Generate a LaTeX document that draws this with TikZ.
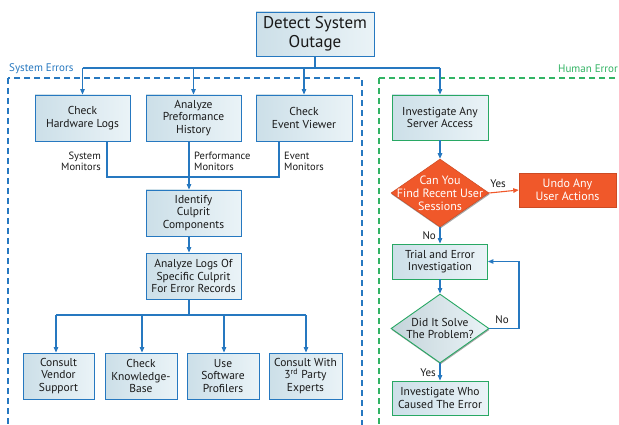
\documentclass[tikz,border=0pt]{standalone}
\usepackage{fontspec}
\setmainfont{PT Sans}
\usetikzlibrary{shapes.geometric,shadows,arrows.meta,calc}
\definecolor{lineblue}{RGB}{38,120,192}
\definecolor{boxgreen}{RGB}{40,168,100}
\definecolor{dashgreen}{RGB}{50,180,100}
\definecolor{actred}{RGB}{240,88,42}
\definecolor{fillL}{RGB}{204,223,232}
\definecolor{fillR}{RGB}{234,243,247}
\definecolor{dfillL}{RGB}{196,212,218}
\definecolor{txt}{RGB}{25,25,25}
\begin{document}
\begin{tikzpicture}[x=1pt,y=-1pt,
 shad/.style={drop shadow={shadow xshift=0.6pt, shadow yshift=-1.4pt, opacity=0.35, fill=black}},
 base/.style={rectangle, align=center, inner sep=1pt, text=txt, font=\fontsize{11.5}{12.5}\selectfont, shad},
 bbox/.style={base, draw=lineblue, line width=0.9pt, left color=fillL, right color=fillR},
 gbox/.style={base, draw=boxgreen, line width=0.9pt, left color=fillL, right color=fillR},
 rbox/.style={base, fill=actred, draw=actred!85!black, line width=0.5pt, text=white, font=\fontsize{12}{13}\selectfont},
 conn/.style={draw=lineblue, line width=1.1pt},
 arr/.style={conn, -{Triangle[width=4.5pt,length=5.5pt]}},
 rarr/.style={draw=actred, line width=1.1pt, -{Triangle[width=4.5pt,length=5.5pt]}},
 lbl/.style={font=\fontsize{10.5}{11.5}\selectfont, text=txt, inner sep=0pt},
 yn/.style={font=\fontsize{11}{12}\selectfont, text=txt, inner sep=0pt},
 dtext/.style={align=center, inner sep=0pt, font=\fontsize{11.5}{12.5}\selectfont},
]
\useasboundingbox (0,0) rectangle (619,425);
\fill[white] (0,0) rectangle (619,425);

% group frames
\draw[lineblue, line width=1.2pt, dash pattern=on 6pt off 4pt] (8,78) rectangle (362,445);
\draw[dashgreen, line width=1.2pt, dash pattern=on 6pt off 4pt] (379,78) rectangle (650,445);
\node[lbl, anchor=west, text=lineblue, font=\fontsize{11}{12}\selectfont] (se) at (9,69) {System Errors};
\node[lbl, anchor=east, text=dashgreen, font=\fontsize{11}{12}\selectfont] (he) at (618,69) {Human Error};

% top
\node[bbox, minimum width=118, minimum height=44, font=\fontsize{17}{18.5}\selectfont] (top) at (315,34) {Detect System\\Outage};

% row 1
\node[bbox, minimum width=95, minimum height=46] (hw) at (82.5,118) {Check\\Hardware Logs};
\node[bbox, minimum width=95, minimum height=46] (perf) at (193.5,118) {Analyze\\Preformance\\History};
\node[bbox, minimum width=96, minimum height=46] (ev) at (304,118) {Check\\Event Viewer};

\node[bbox, minimum width=95, minimum height=46] (ident) at (193.5,213) {Identify\\Culprit\\Components};
\node[bbox, minimum width=95, minimum height=46] (analyze) at (193.5,276) {Analyze Logs Of\\Specific Culprit\\For Error Records};

\node[bbox, minimum width=71, minimum height=46] (vendor) at (58.5,376) {Consult\\Vendor\\Support};
\node[bbox, minimum width=72, minimum height=46] (kb) at (141,376) {Check\\Knowledge-\\Base};
\node[bbox, minimum width=72, minimum height=46] (sw) at (223,376) {Use\\Software\\Profilers};
\node[bbox, minimum width=73, minimum height=46] (third) at (305.5,376) {Consult With\\3\textsuperscript{rd} Party\\Experts};

% right column
\node[gbox, minimum width=96, minimum height=45] (inv) at (440,117.5) {Investigate Any\\Server Access};
\node[diamond, fill=actred, draw=actred!85!black, line width=0.5pt, minimum width=98, minimum height=68, inner sep=0pt, shad] (d1) at (440,193) {};
\node[dtext, text=white, font=\fontsize{12}{13}\selectfont] (d1t) at (d1.center) {Can You\\Find Recent User\\Sessions};
\node[rbox, minimum width=97, minimum height=34] (undo) at (567.5,190) {Undo Any\\User Actions};
\node[gbox, minimum width=95, minimum height=35] (trial) at (440,261.5) {Trial and Error\\Investigation};
\node[diamond, draw=boxgreen, line width=0.9pt, left color=dfillL, right color=fillR, minimum width=98, minimum height=69, inner sep=0pt, shad] (d2) at (440,328.5) {};
\node[dtext, text=txt] (d2t) at (d2.center) {Did It Solve\\The Problem?};
\node[gbox, minimum width=96, minimum height=34] (who) at (440,398) {Investigate Who\\Caused The Error};

% connectors top
\coordinate (bus1) at (0,68);
\draw[conn] (top.south) -- (top.south |- bus1);
\draw[conn] (hw.north |- bus1) -- (inv.north |- bus1);
\draw[arr] (hw.north |- bus1) -- (hw.north);
\draw[arr] (perf.north |- bus1) -- (perf.north);
\draw[arr] (ev.north |- bus1) -- (ev.north);
\draw[arr] (inv.north |- bus1) -- (inv.north);

% monitors merge
\coordinate (bus2) at (0,177);
\coordinate (h1) at ($(hw.south)+(24.5,0)$);
\coordinate (p1) at ($(perf.south)+(-4.5,0)$);
\coordinate (e1) at ($(ev.south)+(-25,0)$);
\draw[conn] (h1) -- (h1 |- bus2) -- (e1 |- bus2) -- (e1);
\draw[conn] (p1) -- (p1 |- bus2);
\draw[arr] (p1 |- bus2) -- (p1 |- ident.north);
\draw[arr] (p1 |- ident.south) -- (p1 |- analyze.north);
\node[lbl, align=right, anchor=east] (sm) at (101,161.5) {System\\Monitors};
\node[lbl, align=left, anchor=west] (pm) at (194,161.5) {Performance\\Monitors};
\node[lbl, align=left, anchor=west] (em) at (284,161.5) {Event\\Monitors};

% bottom fan
\coordinate (bus3) at (0,315);
\draw[conn] (p1 |- analyze.south) -- (p1 |- bus3);
\draw[conn] ($(vendor.north |- bus3)+(-2.5,0)$) -- ($(third.north |- bus3)+(0.5,0)$);
\draw[arr] ($(vendor.north |- bus3)+(-2.5,0)$) -- ($(vendor.north)+(-2.5,0)$);
\draw[arr] ($(kb.north |- bus3)+(1,0)$) -- ($(kb.north)+(1,0)$);
\draw[arr] ($(sw.north |- bus3)+(1,0)$) -- ($(sw.north)+(1,0)$);
\draw[arr] ($(third.north |- bus3)+(0.5,0)$) -- ($(third.north)+(0.5,0)$);

% right connectors
\draw[arr] (inv.south) -- (d1.north);
\draw[rarr] (d1.east) -- (undo.west);
\node[yn, anchor=south] (y1) at (498,188) {Yes};
\draw[arr] (d1.south) -- (trial.north);
\node[yn, anchor=east] (n1) at (436,236) {No};
\draw[arr] (trial.south) -- (d2.north);
\coordinate (loopx) at (519,0);
\draw[arr] (d2.east) -- (d2.east -| loopx) -- (trial.east -| loopx) -- (trial.east);
\node[yn, anchor=south] (n2) at (502,324) {No};
\draw[arr] (d2.south) -- (who.north);
\node[yn, anchor=east] (y2) at (436,373) {Yes};
\end{tikzpicture}
\end{document}
